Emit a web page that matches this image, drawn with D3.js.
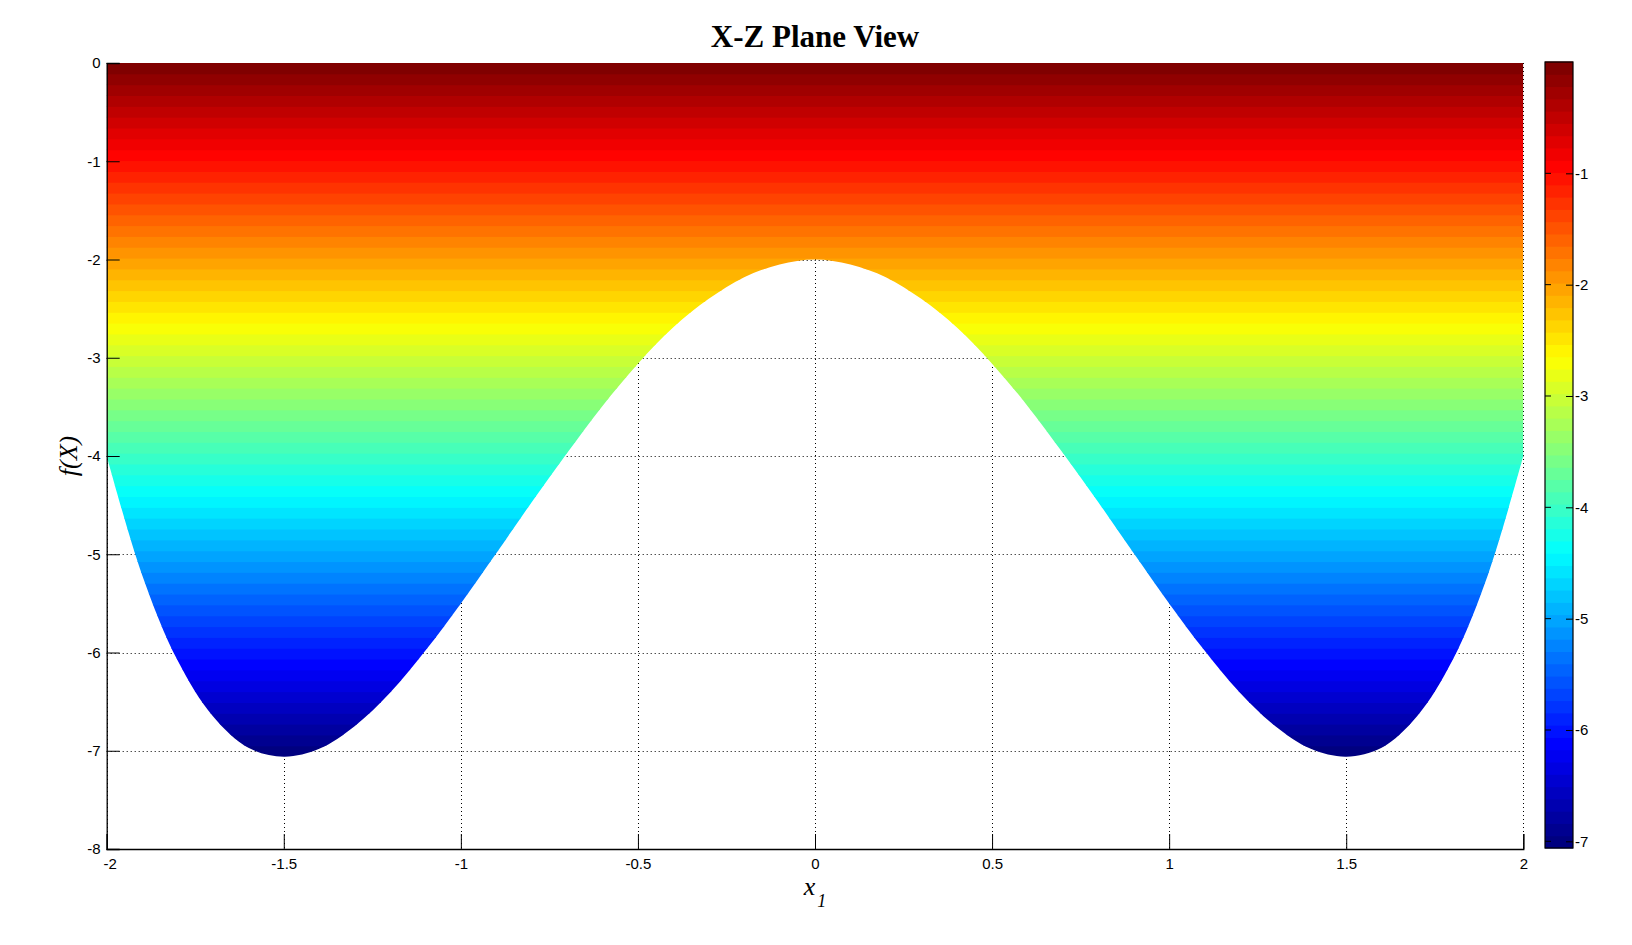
<!DOCTYPE html>
<html>
<head>
<meta charset="utf-8">
<script src="https://cdn.jsdelivr.net/npm/d3@7"></script>
<style>
  body { margin: 0; background: #fff; }
</style>
</head>
<body>
<svg id="chart" width="1632" height="945"></svg>
<script>
// values, x from -2 to 2
var xValues = [-2.0, -1.9, -1.8, -1.7, -1.6, -1.5, -1.4, -1.3, -1.2, -1.1, -1.0,
               -0.9, -0.8, -0.7, -0.6, -0.5, -0.4, -0.3, -0.2, -0.1, 0.0,
               0.1, 0.2, 0.3, 0.4, 0.5, 0.6, 0.7, 0.8, 0.9, 1.0,
               1.1, 1.2, 1.3, 1.4, 1.5, 1.6, 1.7, 1.8, 1.9, 2.0];
var fValues = [-4.00, -5.21, -6.08, -6.65, -6.97, -7.06, -6.98, -6.75, -6.41, -5.98, -5.50,
               -4.99, -4.47, -3.97, -3.49, -3.06, -2.69, -2.40, -2.18, -2.05, -2.00,
               -2.05, -2.18, -2.40, -2.69, -3.06, -3.49, -3.97, -4.47, -4.99, -5.50,
               -5.98, -6.41, -6.75, -6.98, -7.06, -6.97, -6.65, -6.08, -5.21, -4.00];
var xTicks = [-2, -1.5, -1, -0.5, 0, 0.5, 1, 1.5, 2];
var yTicks = [0, -1, -2, -3, -4, -5, -6, -7, -8];
var cbarTicks = [-1, -2, -3, -4, -5, -6, -7];
var cbarRange = [-7.06, 0];
var nColors = 64;

// MATLAB style jet colour
function jet(t) {
    function c(v) { return Math.max(0, Math.min(1, v)); }
    var r = c(1.5 - Math.abs(4 * t - 3)),
        g = c(1.5 - Math.abs(4 * t - 2)),
        b = c(1.5 - Math.abs(4 * t - 1));
    return d3.rgb(r * 255, g * 255, b * 255).toString();
}

var svg = d3.select("#chart");
var pLeft = 106.7, pRight = 1523.3, pTop = 63, pBottom = 849;
var tickFont = "'Liberation Sans', Arial, sans-serif";

var x = d3.scaleLinear().domain([-2, 2]).range([pLeft, pRight]);
var y = d3.scaleLinear().domain([-8, 0]).range([pBottom, pTop]);

var data = xValues.map(function (v, i) { return { x: v, f: fValues[i] }; });

// grid lines (behind the surface)
var grid = svg.append("g").attr("stroke", "#000").attr("stroke-width", 1)
    .attr("stroke-dasharray", "1,3");
grid.selectAll(".gx").data(xTicks).enter().append("line")
    .attr("x1", function (d) { return Math.round(x(d)) + 0.5; })
    .attr("x2", function (d) { return Math.round(x(d)) + 0.5; })
    .attr("y1", pTop).attr("y2", pBottom);
grid.selectAll(".gy").data(yTicks).enter().append("line")
    .attr("y1", function (d) { return Math.round(y(d)) + 0.5; })
    .attr("y2", function (d) { return Math.round(y(d)) + 0.5; })
    .attr("x1", pLeft).attr("x2", pRight);

// area between the curve and f = 0, used as clip
var area = d3.area()
    .x(function (d) { return x(d.x); })
    .y0(y(0))
    .y1(function (d) { return y(d.f); })
    .curve(d3.curveCatmullRom);

svg.append("clipPath").attr("id", "surf")
    .append("path").datum(data).attr("d", area);

var step = (cbarRange[1] - cbarRange[0]) / nColors;
var levels = d3.range(nColors);

svg.append("g").attr("clip-path", "url(#surf)")
    .selectAll("rect").data(levels).enter().append("rect")
    .attr("x", pLeft)
    .attr("width", pRight - pLeft)
    .attr("y", function (i) { return y(cbarRange[0] + (i + 1) * step) - 0.5; })
    .attr("height", function (i) { return y(cbarRange[0] + i * step) - y(cbarRange[0] + (i + 1) * step) + 1; })
    .attr("fill", function (i) { return jet(i / (nColors - 1)); });

// axes
var xAxis = svg.append("g")
    .attr("transform", "translate(0," + pBottom + ")")
    .call(d3.axisBottom(x).tickValues(xTicks).tickSize(-15).tickPadding(9)
        .tickFormat(function (d) { return d; }));
var yAxis = svg.append("g")
    .attr("transform", "translate(" + pLeft + ",0)")
    .call(d3.axisLeft(y).tickValues(yTicks).tickSize(-13).tickPadding(6)
        .tickFormat(function (d) { return d; }));
[xAxis, yAxis].forEach(function (a) {
    a.attr("font-family", tickFont).attr("font-size", 15);
    a.select(".domain").attr("stroke", "#000").attr("stroke-width", 1.3);
    a.selectAll(".tick line").attr("stroke", "#000");
    a.selectAll(".tick text").attr("fill", "#000");
});
xAxis.selectAll(".tick").filter(function (d) { return d == -2; }).select("text").attr("dx", 3);

// colorbar
var cbLeft = 1545, cbRight = 1573, cbTop = 62, cbBottom = 848;
var cy = d3.scaleLinear().domain(cbarRange).range([cbBottom, cbTop]);
var cb = svg.append("g");
cb.selectAll("rect").data(levels).enter().append("rect")
    .attr("x", cbLeft)
    .attr("width", cbRight - cbLeft)
    .attr("y", function (i) { return cy(cbarRange[0] + (i + 1) * step) - 0.5; })
    .attr("height", function (i) { return cy(cbarRange[0] + i * step) - cy(cbarRange[0] + (i + 1) * step) + 1; })
    .attr("fill", function (i) { return jet(i / (nColors - 1)); });
cb.append("rect")
    .attr("x", cbLeft).attr("y", cbTop)
    .attr("width", cbRight - cbLeft).attr("height", cbBottom - cbTop)
    .attr("fill", "none").attr("stroke", "#000").attr("stroke-width", 1.2);
var cbAxis = cb.append("g")
    .attr("transform", "translate(" + cbRight + ",0)")
    .call(d3.axisRight(cy).tickValues(cbarTicks).tickSize(-7).tickPadding(2)
        .tickFormat(function (d) { return d; }));
cbAxis.attr("font-family", tickFont).attr("font-size", 15);
cbAxis.select(".domain").remove();
cbAxis.selectAll(".tick line").attr("stroke", "#000");
cbAxis.selectAll(".tick text").attr("fill", "#000");
cb.selectAll(".ltick").data(cbarTicks).enter().append("line")
    .attr("x1", cbLeft).attr("x2", cbLeft + 6)
    .attr("y1", function (d) { return cy(d); })
    .attr("y2", function (d) { return cy(d); })
    .attr("stroke", "#000");

// title and labels
svg.append("text")
    .attr("x", (pLeft + pRight) / 2).attr("y", 47)
    .attr("text-anchor", "middle")
    .style("font-family", "'Liberation Serif', 'Times New Roman', serif")
    .style("font-weight", "bold").style("font-size", "31px")
    .text("X-Z Plane View");

var xl = svg.append("text")
    .attr("x", (pLeft + pRight) / 2).attr("y", 895)
    .attr("text-anchor", "middle")
    .style("font-family", "'Liberation Serif', 'Times New Roman', serif")
    .style("font-style", "italic").style("font-size", "26px");
xl.append("tspan").text("x");
xl.append("tspan").attr("dy", 12).attr("dx", 2).style("font-size", "18px").text("1");

svg.append("text")
    .attr("transform", "translate(77," + ((pTop + pBottom) / 2) + ") rotate(-90)")
    .attr("text-anchor", "middle")
    .style("font-family", "'Liberation Serif', 'Times New Roman', serif")
    .style("font-style", "italic").style("font-size", "26px")
    .text("f(X)");
</script>
</body>
</html>
